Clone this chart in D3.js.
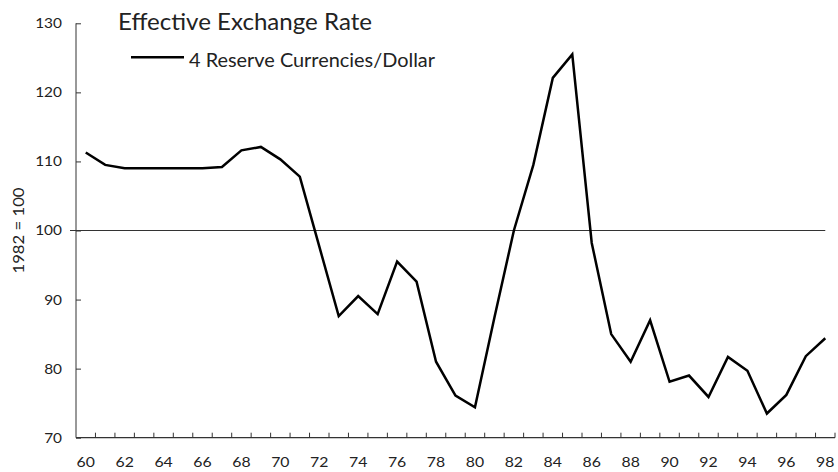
<!DOCTYPE html>
<html>
<head>
<meta charset="utf-8">
<script src="https://cdn.jsdelivr.net/npm/d3@7"></script>
<style>
  html, body { margin: 0; padding: 0; background: #fff; }
  svg { display: block; }
  text { font-family: Lato, "Open Sans", sans-serif; fill: #222; }
</style>
</head>
<body>
<svg id="chart" width="838" height="472"></svg>
<script>
// ---- data ----
const years = d3.range(1960, 1999);
const values = [
  111.3, 109.5, 109.0, 109.0, 109.0, 109.0, 109.0, 109.2, 111.6, 112.1,
  110.3, 107.8, 97.7, 87.6, 90.5, 87.9, 95.5, 92.6, 81.0, 76.1,
  74.4, 87.4, 100.0, 109.5, 122.1, 125.5, 98.2, 85.0, 81.0, 87.0,
  78.1, 79.0, 75.9, 81.7, 79.7, 73.5, 76.2, 81.8, 84.4
];
const yTicks = [70, 80, 90, 100, 110, 120, 130];
const xTickLabels = ["60","62","64","66","68","70","72","74","76","78","80","82","84","86","88","90","92","94","96","98"];
const titleText = "Effective Exchange Rate";
const legendText = "4 Reserve Currencies/Dollar";
const yAxisLabel = "1982 = 100";
const baseline = 100;

// ---- layout ----
const svg = d3.select("#chart");
const mLeft = 76, mRight = 835, mTop = 23.3, mBottom = 437.7;

const x = d3.scaleBand().domain(years).range([mLeft, mRight]).paddingInner(0).paddingOuter(0);
const y = d3.scaleLinear().domain([70, 130]).range([mBottom, mTop]);
const cx = yr => x(yr) + x.bandwidth() / 2;

// widen glyphs slightly, as in the reference typeface
function widen(sel, factor) {
  sel.each(function () {
    const w = this.getComputedTextLength();
    d3.select(this).attr("textLength", w * factor).attr("lengthAdjust", "spacingAndGlyphs");
  });
}

// y axis
const yAxis = d3.axisLeft(y).tickValues(yTicks).tickSize(-5).tickPadding(14);
const gy = svg.append("g").attr("transform", `translate(${mLeft},0)`).call(yAxis);
gy.select(".domain").attr("stroke", "#333").attr("d", `M0,${mTop}V${mBottom}`);
gy.selectAll(".tick line").attr("stroke", "#333");
gy.selectAll(".tick text").attr("font-size", 14).attr("fill", "#222")
  .attr("font-family", "Lato, 'Open Sans', sans-serif");
widen(gy.selectAll(".tick text"), 1.1);

// x axis: ticks at category boundaries, labels at centers
const xAxisG = svg.append("g").attr("transform", `translate(0,${mBottom})`);
xAxisG.append("line").attr("x1", mLeft).attr("x2", mRight).attr("y1", 0).attr("y2", 0)
  .attr("stroke", "#333").attr("stroke-width", 1.3);
const boundaries = years.slice(1).map(yr => x(yr)).concat([mRight]);
xAxisG.selectAll("line.tk").data(boundaries).join("line").attr("class", "tk")
  .attr("x1", d => d).attr("x2", d => d).attr("y1", 0).attr("y2", -5)
  .attr("stroke", "#333");
const xl = xAxisG.selectAll("text.lb").data(xTickLabels).join("text").attr("class", "lb")
  .attr("x", d => cx(1900 + (+d))).attr("y", 29.5)
  .attr("text-anchor", "middle").attr("font-size", 13.5).text(d => d);
widen(xl, 1.17);

// baseline at 100
svg.append("line").attr("x1", mLeft - 6).attr("x2", cx(1998))
  .attr("y1", y(baseline)).attr("y2", y(baseline))
  .attr("stroke", "#333").attr("stroke-width", 1.2);

// y label
svg.append("text").attr("transform", `translate(24,${y(baseline)}) rotate(-90)`)
  .attr("text-anchor", "middle").attr("font-size", 16)
  .attr("textLength", 86).attr("lengthAdjust", "spacingAndGlyphs").text(yAxisLabel);

// line
const line = d3.line().x((d, i) => cx(years[i])).y(d => y(d));
svg.append("path").datum(values).attr("d", line)
  .attr("fill", "none").attr("stroke", "#000").attr("stroke-width", 2.5)
  .attr("stroke-linejoin", "miter");

// title & legend
svg.append("text").attr("x", 118).attr("y", 29.5).attr("font-size", 22.5)
  .attr("textLength", 254).attr("lengthAdjust", "spacingAndGlyphs").text(titleText);
svg.append("line").attr("x1", 131).attr("x2", 184).attr("y1", 57.3).attr("y2", 57.3)
  .attr("stroke", "#000").attr("stroke-width", 2.5);
svg.append("text").attr("x", 189).attr("y", 66.7).attr("font-size", 19.5)
  .attr("textLength", 246).attr("lengthAdjust", "spacingAndGlyphs").text(legendText);
</script>
</body>
</html>
